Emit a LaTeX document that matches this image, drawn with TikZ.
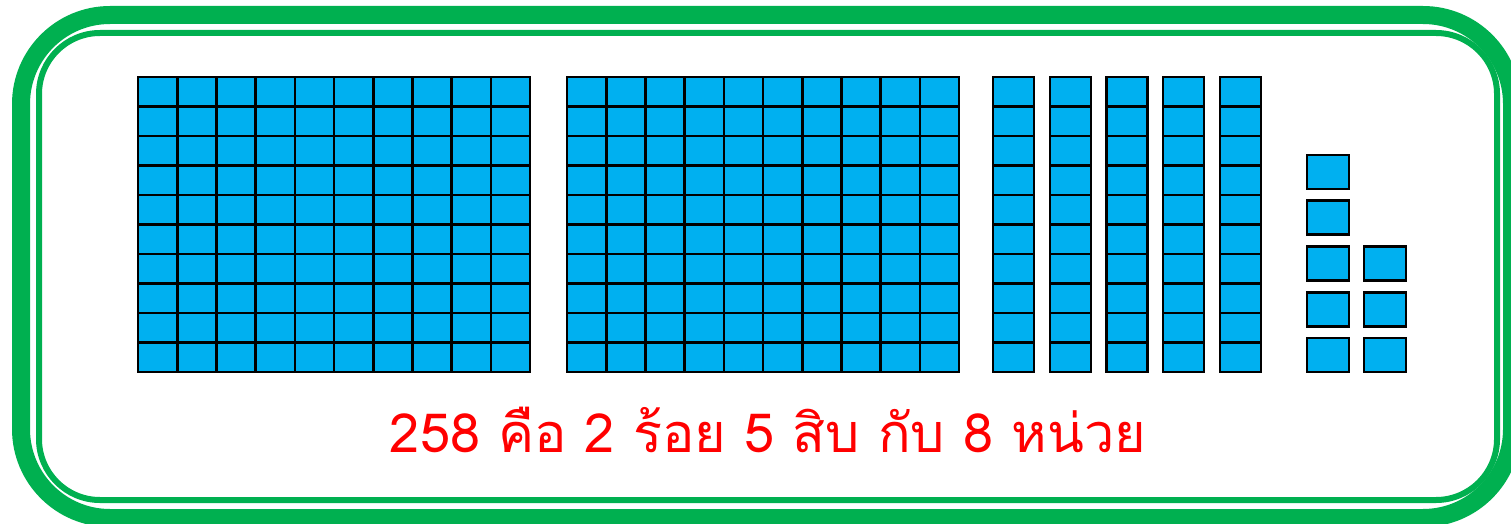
\documentclass[tikz,border=0pt]{standalone}
\usepackage{fontspec}
\usepackage{xcolor}
\newfontfamily\thaifont[Script=Thai]{Loma}
\definecolor{framegreen}{HTML}{00B050}
\definecolor{cellblue}{HTML}{00B0F0}

\begin{document}
\begin{tikzpicture}[
        x=1pt, y=-1pt,
        frame/.style={draw=framegreen, line width=18pt, rounded corners=89pt},
        rim/.style={draw=framegreen, line width=6pt, rounded corners=61pt},
        cell/.style={draw=black, fill=cellblue, line width=2.6pt},
        caption/.style={text=red, font=\thaifont\fontsize{54}{60}\selectfont, anchor=base}
    ]
        \useasboundingbox (0,0) rectangle (1511,524);
        \draw[frame] (21,15) rectangle (1512,518);
        \draw[rim] (39,33) rectangle (1497,500);

        % hundreds
        \foreach \bx in {138,567} {
            \foreach \i in {0,...,9} {
                \foreach \j in {0,...,9} {
                    \draw[cell] (\bx+\i*39.2, 77+\j*29.5) rectangle +(39.2,29.5);
                }
            }
        }
        % tens
        \foreach \tx in {993,1050,1106.5,1163,1220} {
            \foreach \j in {0,...,9} {
                \draw[cell] (\tx, 77+\j*29.5) rectangle +(41,29.5);
            }
        }
        % ones
        \foreach \j in {0,...,4} {
            \draw[cell] (1307, 155+\j*45.75) rectangle +(42,34);
        }
        \foreach \j in {2,3,4} {
            \draw[cell] (1364, 155+\j*45.75) rectangle +(42,34);
        }

        \node[caption] (sum) at (768,452) {258 คือ 2 ร้อย 5 สิบ กับ 8 หน่วย};
    \end{tikzpicture}
\end{document}
